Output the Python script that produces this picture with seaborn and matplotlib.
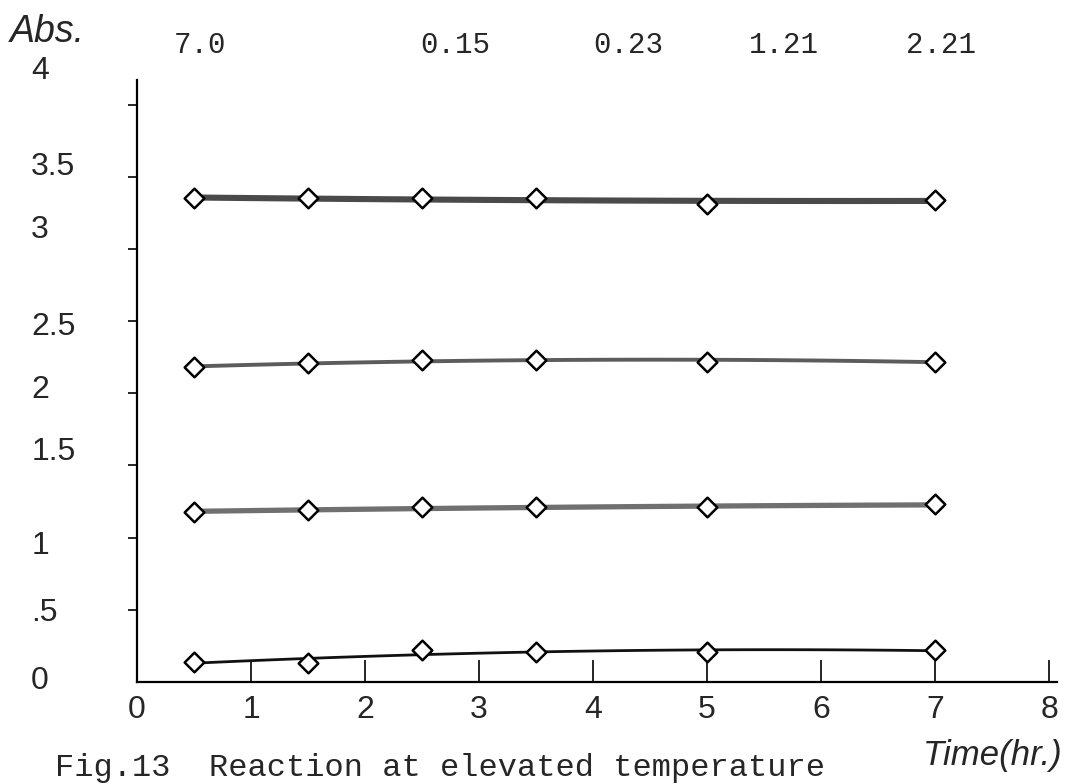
import numpy as np
import pandas as pd
import matplotlib
matplotlib.use('Agg')
import matplotlib.pyplot as plt
import seaborn as sns

sns.set_style('ticks')
plt.rcParams['font.family'] = ['Liberation Sans', 'DejaVu Sans']

# Data
time_hr = [0.5, 1.5, 2.5, 3.5, 5.0, 7.0]
abs_s1 = [3.35, 3.35, 3.35, 3.35, 3.31, 3.34]
abs_s2 = [2.18, 2.21, 2.23, 2.23, 2.22, 2.22]
abs_s3 = [1.18, 1.19, 1.21, 1.21, 1.21, 1.23]
abs_s4 = [0.14, 0.13, 0.22, 0.21, 0.21, 0.22]

top_labels = ['7.0', '0.15', '0.23', '1.21', '2.21']
ytick_vals = [0, 0.5, 1, 1.5, 2, 2.5, 3, 3.5, 4]
ytick_text = ['0', '.5', '1', '1.5', '2', '2.5', '3', '3.5', '4']
xtick_vals = [0, 1, 2, 3, 4, 5, 6, 7, 8]

# the old plotter put the y labels a bit off their ticks
ylabel_pos = [0.01, 0.48, 0.94, 1.59, 2.02, 2.46, 3.13, 3.57, 4.23]
top_label_x = [200, 455, 628, 784, 941]

series = [abs_s1, abs_s2, abs_s3, abs_s4]
line_colors = ['#4a4a4a', '#5c5c5c', '#707070', '#111111']
line_widths = [4.4, 2.8, 3.8, 2.0]

W, H = 1068, 784
fig = plt.figure(figsize=(W / 100, H / 100), dpi=100)
ax = fig.add_axes([137 / W, 1 - 682 / H, 920 / W, 602 / H])

for vals, c, lw in zip(series, line_colors, line_widths):
    df = pd.DataFrame({'t': time_hr, 'a': vals})
    sns.regplot(data=df, x='t', y='a', order=2, ci=None, scatter=False, ax=ax,
                line_kws=dict(color=c, lw=lw, solid_capstyle='round'))
    sns.scatterplot(data=df, x='t', y='a', marker='D', s=100, color='white',
                    edgecolor='black', linewidth=1.8, ax=ax, zorder=3)

ax.set_xlim(0, 8.07)
ax.set_ylim(0, 4.17)
ax.set_xlabel('')
ax.set_ylabel('')
sns.despine(ax=ax)
for s in ['left', 'bottom']:
    ax.spines[s].set_linewidth(1.6)
    ax.spines[s].set_color('black')

ax.set_xticks(xtick_vals)
ax.set_xticklabels([str(v) for v in xtick_vals])
ax.tick_params(axis='x', direction='in', length=16, width=1.4, pad=9, labelsize=23)
ax.set_yticks(ytick_vals[1:])
ax.set_yticklabels([])
ax.tick_params(axis='y', direction='out', length=6.5, width=1.4)

for lab, pos in zip(ytick_text, ylabel_pos):
    ax.text(-0.115, pos, lab, transform=ax.get_yaxis_transform(),
            ha='left', va='center', fontsize=23)

for lab, px in zip(top_labels, top_label_x):
    fig.text(px / W, 1 - 45 / H, lab, ha='center', va='center',
             fontsize=21, family='Liberation Mono')

fig.text(10 / W, 1 - 32 / H, 'Abs.', ha='left', va='center', fontsize=27,
         style='italic')
fig.text(1063 / W, 1 - 756 / H, 'Time(hr.)', ha='right', va='center',
         fontsize=25, style='italic')
fig.text(55 / W, 1 - 768 / H, 'Fig.13  Reaction at elevated temperature',
         ha='left', va='center', fontsize=23, family='Liberation Mono')

fig.savefig('out.png', dpi=100)
